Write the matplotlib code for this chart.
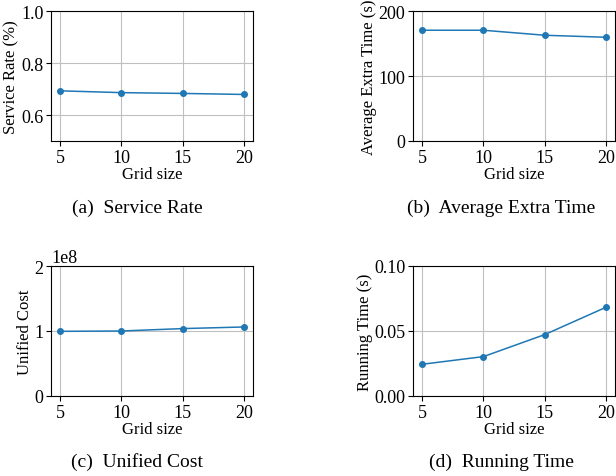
import matplotlib
matplotlib.use("Agg")
import matplotlib.pyplot as plt

# data
grid_sizes = [5, 10, 15, 20]
service_rate = [0.693, 0.686, 0.683, 0.679]
extra_time = [170.4, 170.4, 162.7, 159.6]
unified_cost = [0.995e8, 1.0e8, 1.037e8, 1.062e8]
running_time = [0.0244, 0.0303, 0.0472, 0.0682]

ylabels = ["Service Rate (%)", "Average Extra Time (s)", "Unified Cost", "Running Time (s)"]
captions = ["(a)  Service Rate", "(b)  Average Extra Time", "(c)  Unified Cost", "(d)  Running Time"]

plt.rcParams["font.family"] = ["Liberation Serif", "DejaVu Serif"]
plt.rcParams["font.size"] = 12

fig = plt.figure(figsize=(6.16, 4.77), dpi=100)

W, H = 616, 477
# axes boxes in pixels: left, top, width, height
boxes = [(51, 12, 202, 130), (413, 12, 202, 130),
         (51, 267, 202, 130), (413, 267, 202, 130)]
series = [service_rate, extra_time, unified_cost, running_time]
ylims = [(0.5, 1.0), (0, 200), (0, 2e8), (0, 0.10)]
yticks = [[0.6, 0.8, 1.0], [0, 100, 200], [0, 1e8, 2e8], [0.0, 0.05, 0.10]]
cap_pos = [(137, 208), (501, 208), (137, 462), (501, 462)]

for i in range(4):
    l, t, w, h = boxes[i]
    ax = fig.add_axes([l / W, 1 - (t + h) / H, w / W, h / H])
    ax.plot(grid_sizes, series[i], color="#1f77b4", marker="o",
            markersize=4, linewidth=1.1)
    ax.set_xticks(grid_sizes)
    ax.set_ylim(*ylims[i])
    ax.set_yticks(yticks[i])
    if i == 3:
        ax.set_yticklabels(["0.00", "0.05", "0.10"])
    ax.grid(True, color="#c0c0c0", linewidth=0.8)
    ax.set_axisbelow(True)
    ax.set_xlabel("Grid size", labelpad=0)
    ax.set_ylabel(ylabels[i], labelpad=1)
    ax.tick_params(pad=2, labelsize=13)
    ax.yaxis.get_offset_text().set_fontsize(13)
    fig.text(cap_pos[i][0] / W, 1 - cap_pos[i][1] / H, captions[i],
             ha="center", va="center", fontsize=14)

fig.savefig("out.png", dpi=100)
